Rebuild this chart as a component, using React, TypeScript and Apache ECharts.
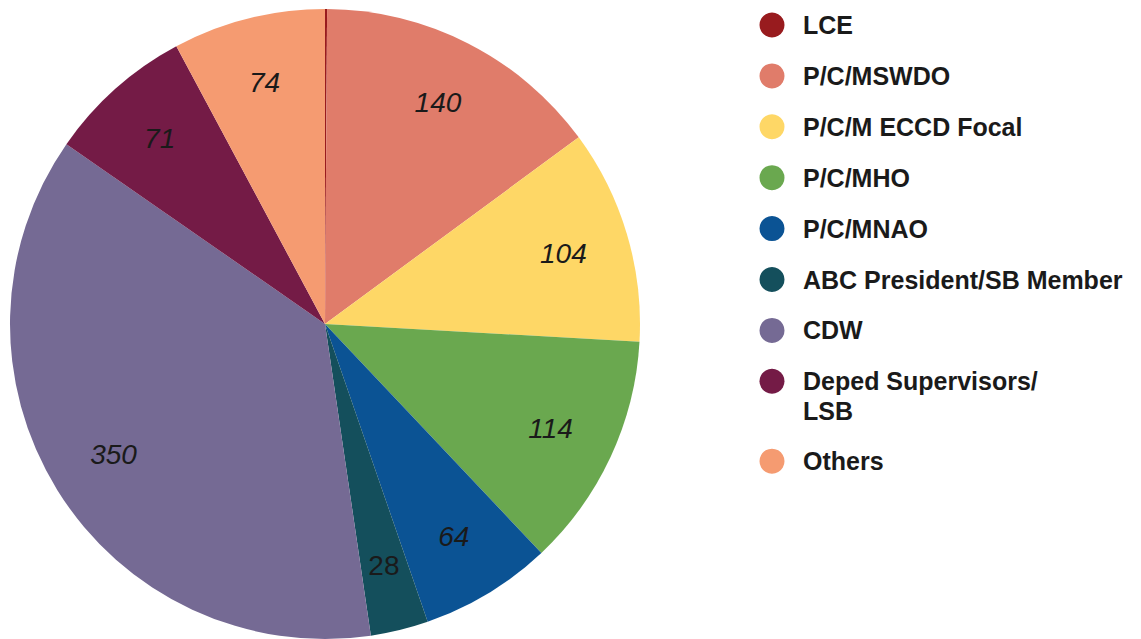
import React, { useEffect, useRef } from "react";
import * as echarts from "echarts";

const categories = [
  "LCE",
  "P/C/MSWDO",
  "P/C/M ECCD Focal",
  "P/C/MHO",
  "P/C/MNAO",
  "ABC President/SB Member",
  "CDW",
  "Deped Supervisors/\nLSB",
  "Others",
];
const values = [1, 140, 104, 114, 64, 28, 350, 71, 74];
const colors = [
  "#981b1e",
  "#e07c6a",
  "#fed766",
  "#6aa84f",
  "#0b5394",
  "#144f5c",
  "#756a94",
  "#741b46",
  "#f59b71",
];
const showLabel = [false, true, true, true, true, true, true, true, true];
const italicLabel = [true, true, true, true, true, false, true, true, true];

export default function App() {
  const ref = useRef<HTMLDivElement>(null);

  useEffect(() => {
    if (!ref.current) return;
    const chart = echarts.init(ref.current, undefined, { renderer: "svg" });

    const cx = 325;
    const cy = 324;
    const R = 315;

    // legend built as graphics
    const legendChildren: any[] = [];
    let y = 25;
    categories.forEach((name, i) => {
      const lines = name.split("\n").length;
      legendChildren.push({
        type: "circle",
        shape: { cx: 772, cy: y, r: 12.5 },
        style: { fill: colors[i] },
      });
      legendChildren.push({
        type: "text",
        x: 803,
        y: y - 15,
        style: {
          text: name,
          fill: "#1a1a1a",
          fontSize: 25,
          fontWeight: "bold",
          fontFamily: '"Liberation Sans", Arial, sans-serif',
          lineHeight: 30,
          verticalAlign: "top",
        },
      });
      y += 50.9 + (lines - 1) * 29;
    });

    const data = categories.map((name, i) => ({
      name,
      value: values[i],
      itemStyle: { color: colors[i] },
    }));

    const labelData = categories.map((name, i) => ({
      name,
      value: values[i],
      label: {
        show: showLabel[i],
        fontStyle: italicLabel[i] ? "italic" : "normal",
      },
    }));

    chart.setOption({
      animation: false,
      backgroundColor: "#ffffff",
      series: [
        {
          type: "pie",
          center: [cx, cy],
          radius: [0, R],
          startAngle: 90,
          clockwise: true,
          silent: true,
          label: { show: false },
          labelLine: { show: false },
          emphasis: { disabled: true },
          itemStyle: { borderWidth: 0 },
          data,
        },
        {
          type: "pie",
          center: [cx, cy],
          radius: [0, R * 1.56],
          startAngle: 90,
          clockwise: true,
          silent: true,
          z: 5,
          itemStyle: { color: "rgba(0,0,0,0)", borderWidth: 0 },
          emphasis: { disabled: true },
          labelLine: { show: false },
          label: {
            show: true,
            position: "inside",
            formatter: "{c}",
            color: "#1a1a1a",
            fontSize: 28,
            fontFamily: '"Liberation Sans", Arial, sans-serif',
          },
          data: labelData,
        },
      ],
      graphic: [{ type: "group", children: legendChildren }],
    });

    return () => chart.dispose();
  }, []);

  return (
    <div
      ref={ref}
      style={{ position: "fixed", left: 0, top: 0, width: 1141, height: 639 }}
    />
  );
}
